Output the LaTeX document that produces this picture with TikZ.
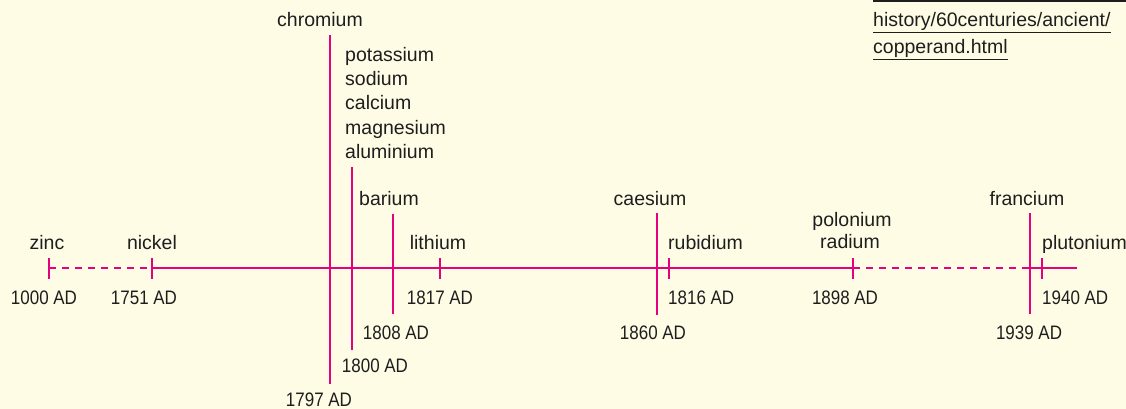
\documentclass[tikz,border=0pt]{standalone}
\usepackage{fontspec}
\setmainfont{Liberation Sans}
\newfontfamily\datefont[FakeStretch=0.87]{Liberation Sans}
\usetikzlibrary{positioning}
\definecolor{paper}{RGB}{255,252,230}
\definecolor{rose}{RGB}{229,0,126}
\definecolor{ink}{RGB}{30,30,30}
\newcommand\ulink[1]{\vtop{\hbox{#1}\kern0.6pt\hrule height1.6pt}}
\tikzset{
  axis/.style={draw=rose,line width=2.6pt},
  gap/.style={axis,dash pattern=on 7pt off 6pt},
  tick/.style={draw=rose,line width=2.6pt},
  elem/.style={font=\fontsize{19.5}{24}\selectfont,text=ink,inner sep=0pt,anchor=base},
  yr/.style={elem,font=\datefont\fontsize{19.5}{24}\selectfont},
  link/.style={elem,anchor=base west},
}
\begin{document}
\begin{tikzpicture}[x=1pt,y=-1pt]
    \fill[paper] (0,0) rectangle (1126,409);
    \useasboundingbox (0,0) rectangle (1126,409);

    % time axis
    \coordinate (a0) at (49,268);
    \coordinate (a1) at (152,268);
    \coordinate (a2) at (853,268);
    \coordinate (a3) at (1030,268);
    \coordinate (a4) at (1077,268);
    \draw[gap] (a0)--(a1);
    \draw[axis] (a1)--(a2);
    \draw[gap] (a2)--(a3);
    \draw[axis] (a3)--(a4);

    % short ticks
    \draw[tick] (49,258)--(49,279);
    \draw[tick] (152,258)--(152,279);
    \draw[tick] (440,258)--(440,279);
    \draw[tick] (669,258)--(669,279);
    \draw[tick] (853,258)--(853,279);
    \draw[tick] (1042,258)--(1042,279);
    % long ticks
    \draw[tick] (330,35)--(330,384);
    \draw[tick] (352,167)--(352,350);
    \draw[tick] (393,214)--(393,314);
    \draw[tick] (657,213)--(657,315);
    \draw[tick] (1030,213)--(1030,314);

    % elements
    \node[elem] (zinc) at (47,249) {zinc};
    \node[elem] (nickel) at (152,249) {nickel};
    \node[elem] (chromium) at (320,27) {chromium};
    \node[elem,anchor=base west] (potassium) at (345,62) {potassium};
    \node[elem,anchor=base west] (sodium) at ([yshift=-24pt]potassium.base west) {sodium};
    \node[elem,anchor=base west] (calcium) at ([yshift=-24pt]sodium.base west) {calcium};
    \node[elem,anchor=base west] (magnesium) at ([yshift=-24pt]calcium.base west) {magnesium};
    \node[elem,anchor=base west] (aluminium) at ([yshift=-24pt]magnesium.base west) {aluminium};
    \node[elem] (barium) at (389,205) {barium};
    \node[elem] (lithium) at (438,249) {lithium};
    \node[elem] (caesium) at (650,205) {caesium};
    \node[elem,anchor=base west] (rubidium) at (668,249) {rubidium};
    \node[elem] (polonium) at (852,226) {polonium};
    \node[elem] (radium) at (850,248) {radium};
    \node[elem] (francium) at (1027,205) {francium};
    \node[elem,anchor=base west] (plutonium) at (1042,249) {plutonium};

    % years
    \node[yr] (y1000) at (44,304) {1000 AD};
    \node[yr] (y1751) at (144,304) {1751 AD};
    \node[yr] (y1797) at (319,406) {1797 AD};
    \node[yr] (y1800) at (375,372) {1800 AD};
    \node[yr] (y1808) at (396,339) {1808 AD};
    \node[yr] (y1817) at (440,304) {1817 AD};
    \node[yr] (y1860) at (653,339) {1860 AD};
    \node[yr,anchor=base west] (y1816) at (668,304) {1816 AD};
    \node[yr] (y1898) at (845,304) {1898 AD};
    \node[yr] (y1939) at (1029,339) {1939 AD};
    \node[yr,anchor=base west] (y1940) at (1042,304) {1940 AD};

    % source link
    \draw[ink,line width=1.6pt] (873,1)--(1126,1);
    \node[link] (url1) at (873,27) {\ulink{history/60centuries/ancient/}};
    \node[link] (url2) at (873,54) {\ulink{copperand.html}};
\end{tikzpicture}
\end{document}
